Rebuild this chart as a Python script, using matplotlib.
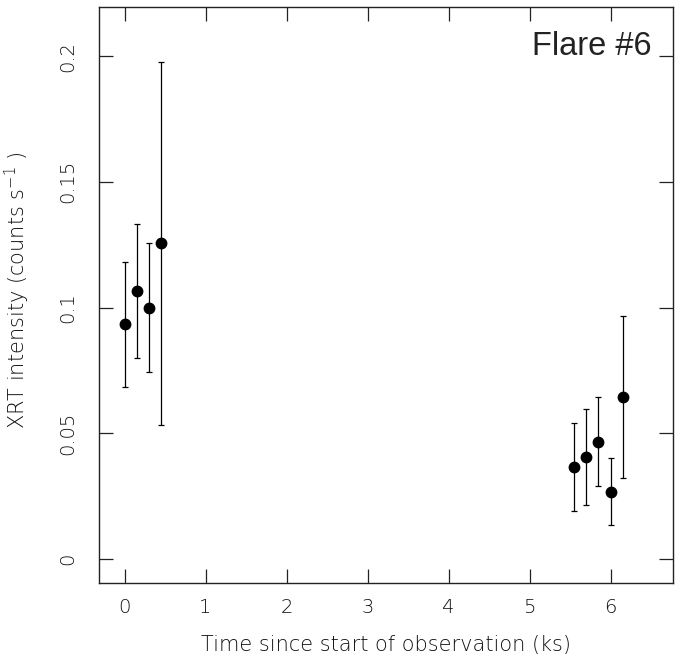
import matplotlib
matplotlib.use("Agg")
import matplotlib.pyplot as plt

# XRT light curve around flare 6: two groups of bins
time_ks = [0.0, 0.15, 0.30, 0.45, 5.55, 5.70, 5.85, 6.00, 6.15]
rate = [0.0933, 0.1066, 0.0999, 0.1255, 0.0367, 0.0407, 0.0466, 0.0268, 0.0644]
rate_hi = [0.1181, 0.1332, 0.1256, 0.1976, 0.0542, 0.0596, 0.0643, 0.0400, 0.0966]
rate_lo = [0.0683, 0.0799, 0.0742, 0.0532, 0.0190, 0.0216, 0.0291, 0.0135, 0.0323]

x_ticks = [0, 1, 2, 3, 4, 5, 6]
y_ticks = [0, 0.05, 0.1, 0.15, 0.2]
y_ticklabels = ["0", "0.05", "0.1", "0.15", "0.2"]

err_lo = [r - lo for r, lo in zip(rate, rate_lo)]
err_hi = [hi - r for r, hi in zip(rate, rate_hi)]

plt.rcParams["mathtext.fontset"] = "custom"
plt.rcParams["mathtext.rm"] = "DejaVu Sans:light"
plt.rcParams["mathtext.default"] = "rm"

thin = dict(family="DejaVu Sans", weight="light", color="#111111")

fig = plt.figure(figsize=(6.83, 6.56), dpi=100)
ax = fig.add_axes([0.145, 0.1117, 0.840, 0.8776])

ax.errorbar(time_ks, rate, yerr=[err_lo, err_hi], fmt="o", color="black",
            ms=7.5, elinewidth=0.9, capsize=2.5, capthick=0.9)

ax.set_xlim(-0.315, 6.768)
ax.set_ylim(-0.0094, 0.2195)

ax.set_xticks(x_ticks)
ax.set_yticks(y_ticks)
ax.set_xticklabels([str(t) for t in x_ticks], fontsize=14, **thin)
ax.set_yticklabels(y_ticklabels, fontsize=14, rotation=90, va="center", **thin)
ax.tick_params(direction="in", length=10, width=0.9, top=True, right=True,
               color="#222222")
ax.tick_params(axis="x", pad=11)
ax.tick_params(axis="y", pad=16)
for s in ax.spines.values():
    s.set_linewidth(1.0)
    s.set_color("#222222")

ax.set_xlabel("Time since start of observation (ks)", fontsize=15, labelpad=13, **thin)
fig.text(17 / 683, 1 - 290 / 656, "XRT intensity (counts s$^{-1}$ )", rotation=90,
         ha="center", va="center", fontsize=15, **thin)

ax.text(0.963, 0.917, "Flare #6", transform=ax.transAxes, ha="right", va="baseline",
        fontsize=23.5, family="Liberation Sans", color="#222222")

fig.savefig("out.png", dpi=100)
